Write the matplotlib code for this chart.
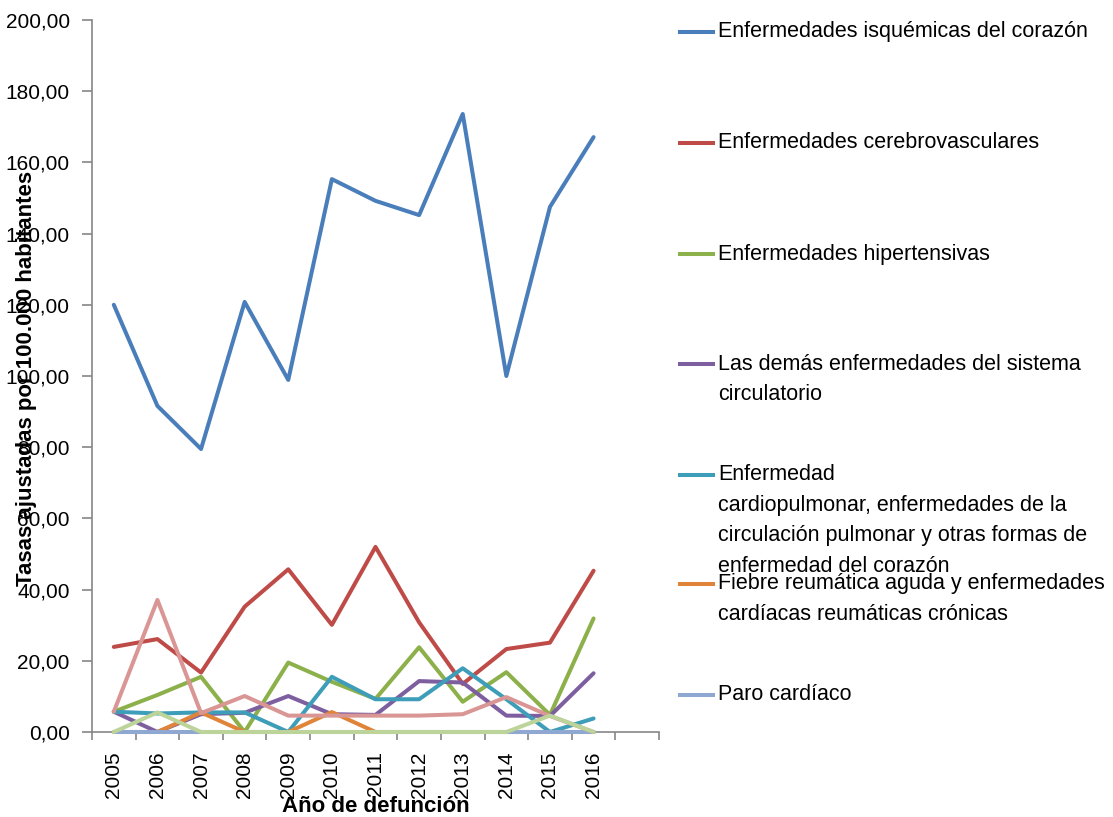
import matplotlib
matplotlib.use("Agg")
import matplotlib.pyplot as plt
from matplotlib.lines import Line2D
from matplotlib.ticker import FuncFormatter, MultipleLocator

plt.rcParams["font.family"] = ["Liberation Sans Narrow", "Liberation Sans", "DejaVu Sans"]

years = ["2005", "2006", "2007", "2008", "2009", "2010", "2011", "2012",
         "2013", "2014", "2015", "2016", ""]

isquemicas      = [120.0, 91.6, 79.5, 120.8, 98.9, 155.3, 149.2, 145.2, 173.6, 100.0, 147.5, 167.1]
cerebrovasc     = [23.9, 26.1, 16.7, 35.2, 45.7, 30.1, 52.0, 30.8, 13.5, 23.3, 25.1, 45.3]
hipertensivas   = [5.7, 10.4, 15.5, 0.0, 19.5, 14.1, 9.3, 23.8, 8.5, 16.8, 4.8, 31.9]
demas_circ      = [5.7, 0.0, 5.0, 5.4, 10.1, 5.0, 4.8, 14.3, 13.9, 4.6, 4.5, 16.5]
cardiopulmonar  = [5.7, 5.2, 5.5, 5.5, 0.0, 15.5, 9.2, 9.2, 17.9, 9.2, 0.0, 3.8]
fiebre_reum     = [0.0, 0.0, 5.5, 0.0, 0.0, 5.6, 0.0, 0.0, 0.0, 0.0, 0.0, 0.0]
paro_cardiaco   = [0.0, 0.0, 0.0, 0.0, 0.0, 0.0, 0.0, 0.0, 0.0, 0.0, 0.0, 0.0]
serie_8         = [5.7, 37.1, 5.3, 10.1, 4.6, 4.6, 4.6, 4.6, 5.0, 9.8, 4.5, 0.0]
serie_9         = [0.0, 5.5, 0.0, 0.0, 0.0, 0.0, 0.0, 0.0, 0.0, 0.0, 4.6, 0.0]

labels = [
    "Enfermedades isquémicas del corazón",
    "Enfermedades cerebrovasculares",
    "Enfermedades hipertensivas",
    "Las demás enfermedades del sistema\ncirculatorio",
    "Enfermedad\ncardiopulmonar, enfermedades de la\ncirculación pulmonar y otras formas de\nenfermedad del corazón",
    "Fiebre reumática aguda y enfermedades\ncardíacas reumáticas crónicas",
    "Paro cardíaco",
]

series = [isquemicas, cerebrovasc, hipertensivas, demas_circ, cardiopulmonar,
          fiebre_reum, paro_cardiaco, serie_8, serie_9]
colors = ["#4A7EBB", "#BE4B48", "#8CB04A", "#7D5FA0", "#3E9DB8",
          "#E0843A", "#8FA8D2", "#D99694", "#BCD39A"]

W, H = 1113, 817
FS = 15
fig = plt.figure(figsize=(W / 100, H / 100), dpi=100)
ax = fig.add_axes([92 / W, 1 - 732 / H, (659 - 92) / W, (732 - 20) / H])

x = list(range(len(isquemicas)))
for i, (vals, c) in enumerate(zip(series, colors)):
    ax.plot(x, vals, color=c, lw=2.9, solid_joinstyle="round",
            solid_capstyle="round", zorder=3 + i, clip_on=False)

ax.set_xlim(-0.5, len(years) - 0.5)
ax.set_ylim(0, 200)
ax.yaxis.set_major_locator(MultipleLocator(20))
ax.yaxis.set_major_formatter(FuncFormatter(lambda v, p: f"{v:.2f}".replace(".", ",")))

# category boundaries carry the tick marks, labels sit at the centres
ax.set_xticks([k - 0.5 for k in range(len(years) + 1)])
ax.set_xticklabels([])
ax.set_xticks(range(len(years)), minor=True)
ax.set_xticklabels(years, minor=True, rotation=90, fontsize=FS)
ax.tick_params(axis="x", which="major", length=6, color="#868686", width=1.2)
ax.tick_params(axis="x", which="minor", length=0, pad=14)
ax.tick_params(axis="y", length=7, color="#868686", width=1.2, labelsize=FS, pad=9)

for s in ("top", "right"):
    ax.spines[s].set_visible(False)
for s in ("left", "bottom"):
    ax.spines[s].set_color("#868686")
    ax.spines[s].set_linewidth(1.2)

ax.set_ylabel("Tasas ajustadas por 100.000 habitantes", fontsize=16, fontweight="bold",
              va="center")
ax.yaxis.set_label_coords(-0.116, 0.497)
ax.set_xlabel("Año de defunción", fontsize=16, fontweight="bold", va="center")
ax.xaxis.set_label_coords(0.5, -0.104)

# legend drawn by hand, Excel style: evenly spaced entries, text hangs from the key
key_y = [32, 143, 254, 364, 475, 584, 695]
line_h = 30.5
for lab, c, ky in zip(labels, colors, key_y):
    fig.add_artist(Line2D([680 / W, 713 / W], [1 - ky / H, 1 - ky / H],
                          color=c, lw=2.9, transform=fig.transFigure))
    for j, part in enumerate(lab.split("\n")):
        fig.text(718 / W, 1 - (ky + j * line_h) / H, part, fontsize=15.5,
                 va="center", ha="left")

fig.savefig("out.png", dpi=100)
